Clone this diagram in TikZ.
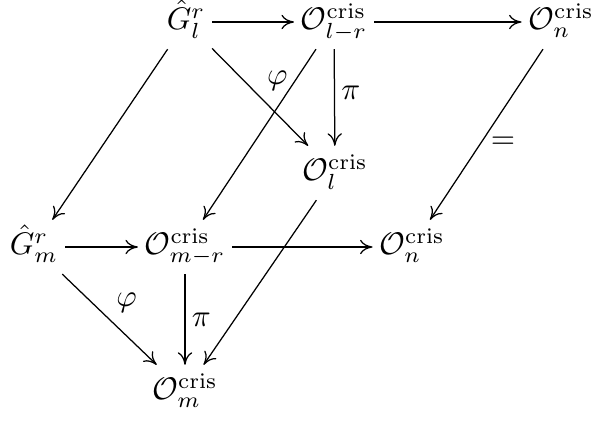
\documentclass[tikz,border=0pt]{standalone}
\usepackage{amsmath,amssymb}
\usepackage{tikz}
\usetikzlibrary{arrows.meta,positioning}
\tikzset{
  obj/.style={text height=9pt,text depth=4pt,inner sep=2pt},
  arr/.style={-{To[length=4pt,width=4.6pt]},thin},
  lbl/.style={inner sep=2pt}
}
\newcommand{\Ocris}[1]{\mathcal{O}^{\mathrm{cris}}_{#1}}
\newcommand{\Gh}[1]{\hat{G}^{r}_{#1}}

\begin{document}
\begin{tikzpicture}[x=0.32pt,y=-0.32pt]
 \useasboundingbox (0,0) rectangle (591,421);
 \node[obj] (gl) at (186,22) {$\Gh{l}$};
 \node[obj] (olr) at (334,22) {$\Ocris{l-r}$};
 \node[obj] (on1) at (561,22) {$\Ocris{n}$};
 \node[obj] (ol) at (335,173) {$\Ocris{l}$};
 \node[obj] (gm) at (34,247) {$\Gh{m}$};
 \node[obj] (omr) at (185,247) {$\Ocris{m-r}$};
 \node[obj] (on2) at (412,247) {$\Ocris{n}$};
 \node[obj] (om) at (185,392) {$\Ocris{m}$};
 \draw[arr] (gl)--(olr);
 \draw[arr] (olr)--(on1);
 \draw[arr] (gl)--(gm);
 \draw[arr] (gl)--node[lbl,pos=0.5,above right] {$\varphi$} (ol);
 \draw[arr] (olr)--node[lbl,pos=0.45,right] {$\pi$} (ol);
 \draw[arr] (olr)--(omr);
 \draw[arr] (on1)--node[lbl,pos=0.55,right=1pt] {$=$} (on2);
 \draw[arr] (gm)--(omr);
 \draw[arr] (omr)--(on2);
 \draw[arr] (gm)--node[lbl,pos=0.5,above right] {$\varphi$} (om);
 \draw[arr] (omr)--node[lbl,right] {$\pi$} (om);
 \draw[arr] (ol)--(om);
\end{tikzpicture}
\end{document}
